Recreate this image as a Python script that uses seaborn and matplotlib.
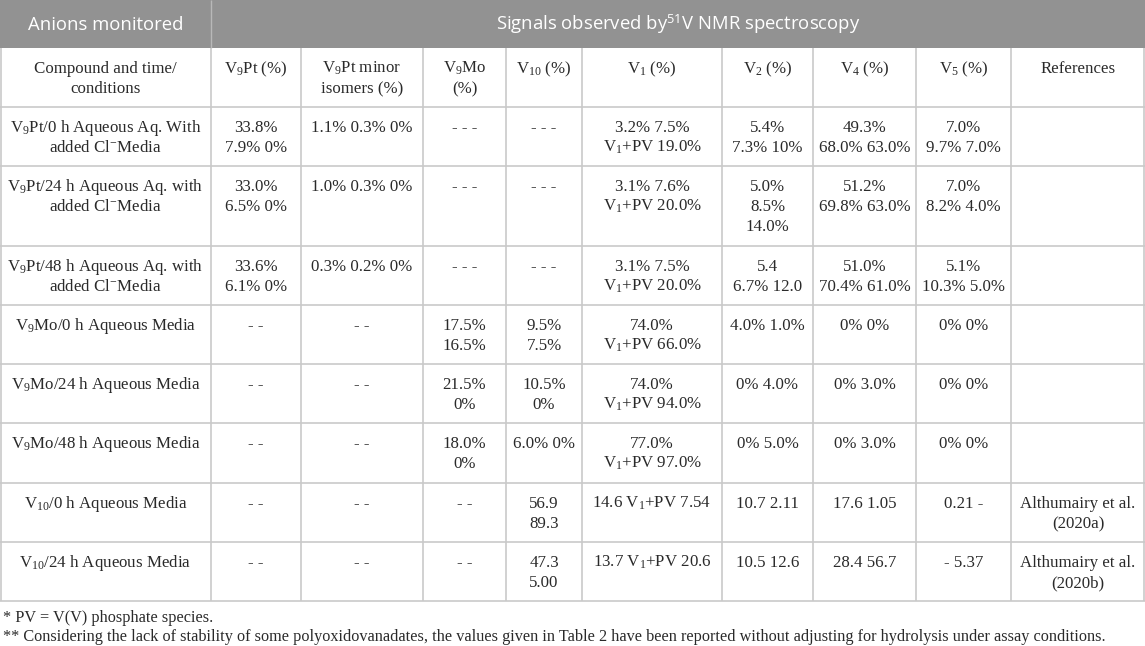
import numpy as np
import seaborn as sns
import matplotlib.pyplot as plt

# table content, one list per column
col_headers = ["Compound and time/\nconditions", "V$_9$Pt (%)", "V$_9$Pt minor\nisomers (%)",
               "V$_9$Mo\n(%)", "V$_{10}$ (%)", "V$_1$ (%)", "V$_2$ (%)", "V$_4$ (%)",
               "V$_5$ (%)", "References"]

compounds = ["V$_9$Pt/0 h Aqueous Aq. With\nadded Cl$^{-}$Media",
             "V$_9$Pt/24 h Aqueous Aq. with\nadded Cl$^{-}$Media",
             "V$_9$Pt/48 h Aqueous Aq. with\nadded Cl$^{-}$Media",
             "V$_9$Mo/0 h Aqueous Media",
             "V$_9$Mo/24 h Aqueous Media",
             "V$_9$Mo/48 h Aqueous Media",
             "V$_{10}$/0 h Aqueous Media",
             "V$_{10}$/24 h Aqueous Media"]
v9pt = ["33.8%\n7.9% 0%", "33.0%\n6.5% 0%", "33.6%\n6.1% 0%", "- -", "- -", "- -", "- -", "- -"]
v9pt_minor = ["1.1% 0.3% 0%", "1.0% 0.3% 0%", "0.3% 0.2% 0%", "- -", "- -", "- -", "- -", "- -"]
v9mo = ["- - -", "- - -", "- - -", "17.5%\n16.5%", "21.5%\n0%", "18.0%\n0%", "- -", "- -"]
v10 = ["- - -", "- - -", "- - -", "9.5%\n7.5%", "10.5%\n0%", "6.0% 0%", "56.9\n89.3", "47.3\n5.00"]
v1 = ["3.2% 7.5%\nV$_1$+PV 19.0%", "3.1% 7.6%\nV$_1$+PV 20.0%", "3.1% 7.5%\nV$_1$+PV 20.0%",
      "74.0%\nV$_1$+PV 66.0%", "74.0%\nV$_1$+PV 94.0%", "77.0%\nV$_1$+PV 97.0%",
      "14.6 V$_1$+PV 7.54", "13.7 V$_1$+PV 20.6"]
v2 = ["5.4%\n7.3% 10%", "5.0%\n8.5%\n14.0%", "5.4\n6.7% 12.0", "4.0% 1.0%", "0% 4.0%", "0% 5.0%",
      "10.7 2.11", "10.5 12.6"]
v4 = ["49.3%\n68.0% 63.0%", "51.2%\n69.8% 63.0%", "51.0%\n70.4% 61.0%", "0% 0%", "0% 3.0%", "0% 3.0%",
      "17.6 1.05", "28.4 56.7"]
v5 = ["7.0%\n9.7% 7.0%", "7.0%\n8.2% 4.0%", "5.1%\n10.3% 5.0%", "0% 0%", "0% 0%", "0% 0%",
      "0.21 -", "- 5.37"]
refs = ["", "", "", "", "", "", "Althumairy et al.\n(2020a)", "Althumairy et al.\n(2020b)"]

footnotes = ["* PV = V(V) phosphate species.",
             "** Considering the lack of stability of some polyoxidovanadates, the values given in "
             "Table 2 have been reported without adjusting for hydrolysis under assay conditions."]

# layout (pixels)
col_widths = [211, 90, 122, 83, 76, 140, 91, 103, 95, 134]
row_heights = [59, 59, 80, 59, 59, 59, 60, 59, 59]
top_h = 48

sns.set_theme(style="white")
plt.rcParams['font.family'] = ['Liberation Serif', 'DejaVu Serif']
plt.rcParams['mathtext.fontset'] = 'custom'
plt.rcParams['mathtext.rm'] = 'Liberation Serif'
plt.rcParams['mathtext.it'] = 'Liberation Serif:italic'
plt.rcParams['mathtext.bf'] = 'Liberation Serif:bold'
plt.rcParams['mathtext.sf'] = 'Open Sans'

W, H = 1145, 646
fig = plt.figure(figsize=(W / 100, H / 100), dpi=100)
ax = fig.add_axes([0, 0, 1, 1])
ax.set_xlim(0, W)
ax.set_ylim(H, 0)
ax.axis("off")

xs = np.concatenate([[0], np.cumsum(col_widths)])
ys = np.concatenate([[top_h], top_h + np.cumsum(row_heights)])

# top header band
ax.add_patch(plt.Rectangle((0, 0), W, top_h, color="#929292", lw=0))
ax.vlines(xs[1], 0, top_h, color="#b8b8b8", lw=1)
ax.text(xs[1] / 2, 30, "Anions monitored", ha="center", va="baseline",
        color="white", fontsize=13.3, family="Open Sans")
ax.text((xs[1] + W) / 2, 30, r"Signals observed by$^{\mathsf{51}}$V NMR spectroscopy",
        ha="center", va="baseline", color="white", fontsize=13.3, family="Open Sans")

# grid
grid = "#c9c9c9"
ax.hlines(ys[1:], 0, W, color=grid, lw=1.2)
ax.vlines(xs[1:-1], ys[0], ys[-1], color=grid, lw=1.2)
ax.vlines([0.6, W - 0.6], ys[0], ys[-1], color=grid, lw=1.2)

columns = [compounds, v9pt, v9pt_minor, v9mo, v10, v1, v2, v4, v5, refs]
table = [col_headers] + [[c[i] for c in columns] for i in range(len(compounds))]

for r, row in enumerate(table):
    for c, cell in enumerate(row):
        cx = (xs[c] + xs[c + 1]) / 2
        for k, line in enumerate(cell.split("\n")):
            if line:
                ax.text(cx, ys[r] + 25 + 20 * k, line, ha="center", va="baseline",
                        fontsize=12.2, color="#2a2a2a")

for k, note in enumerate(footnotes):
    ax.text(3, ys[-1] + 21 + 19 * k, note, ha="left", va="baseline", fontsize=11.7, color="#2a2a2a")

fig.savefig("out.png", dpi=100)
plt.close(fig)
